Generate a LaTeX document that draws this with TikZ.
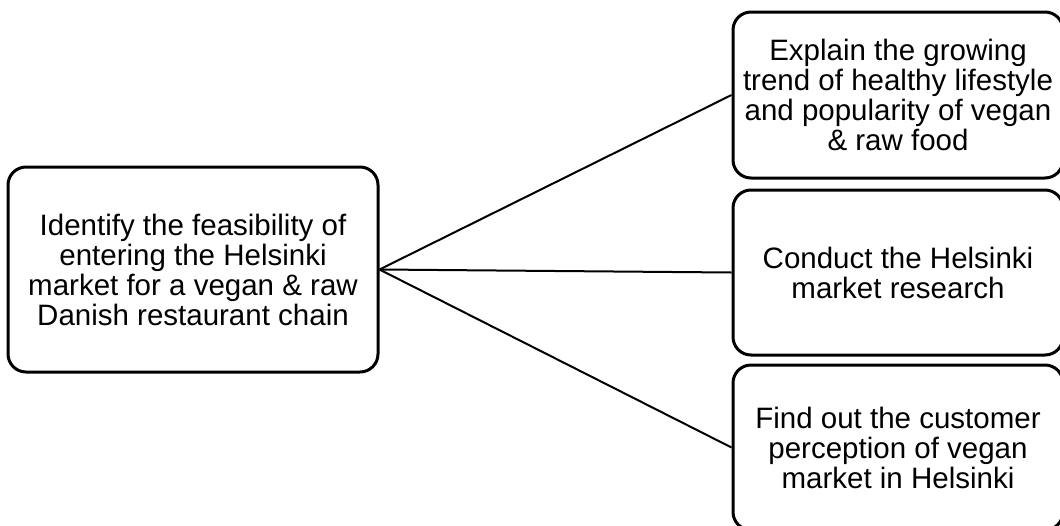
\documentclass[tikz,border=0pt]{standalone}
\usepackage{fontspec}
\setmainfont{Liberation Sans}
\begin{document}
\begin{tikzpicture}[x=1pt,y=-1pt,
  box/.style={draw=black, line width=3pt, rounded corners=18pt, fill=white,
    align=center, inner sep=0pt, font=\fontsize{29.5}{30}\selectfont},
  link/.style={draw=black, line width=2pt}]
\useasboundingbox (0,0) rectangle (1060,525);
\clip (0,0) rectangle (1060,525);
\node[box, minimum width=370pt, minimum height=205pt] (goal) at (193,269.5)
  {Identify the feasibility of\\entering the Helsinki\\market for a vegan \& raw\\Danish restaurant chain};
\node[box, minimum width=330pt, minimum height=166pt] (a) at (898,95)
  {Explain the growing\\trend of healthy lifestyle\\and popularity of vegan\\\& raw food};
\node[box, minimum width=330pt, minimum height=165pt] (b) at (898,272.5)
  {Conduct the Helsinki\\market research};
\node[box, minimum width=330pt, minimum height=165pt] (c) at (898,447.5)
  {Find out the customer\\perception of vegan\\market in Helsinki};
\draw[link] (goal.east) -- (a.west);
\draw[link] (goal.east) -- (b.west);
\draw[link] (goal.east) -- (c.west);
\end{tikzpicture}
\end{document}
